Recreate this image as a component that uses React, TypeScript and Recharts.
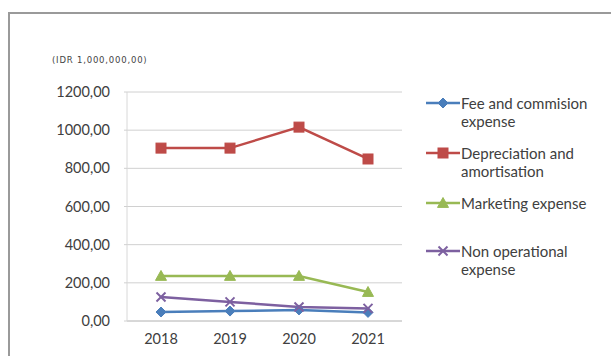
import React from 'react';
import { LineChart, Line, XAxis, YAxis, CartesianGrid } from 'recharts';

const years = ['2018', '2019', '2020', '2021'];
const feeCommission = [47, 52, 58, 45];
const depreciation = [906, 906, 1016, 849];
const marketing = [236, 236, 236, 152];
const nonOperational = [126, 100, 73, 66];
const yTicks = [0, 200, 400, 600, 800, 1000, 1200];
const unitLabel = '(IDR 1,000,000,00)';

const seriesNames = ['Fee and commision expense', 'Depreciation and amortisation', 'Marketing expense', 'Non operational expense'];
const seriesKeys = ['fee', 'dep', 'mkt', 'nonop'];
const seriesValues = [feeCommission, depreciation, marketing, nonOperational];
const seriesColors = ['#4a7ebb', '#be4b48', '#98b954', '#7d60a0'];
const seriesMarkers = ['diamond', 'square', 'triangle', 'x'];

const data = years.map((y, i) => {
  const row: any = { year: y };
  seriesKeys.forEach((k, j) => { row[k] = seriesValues[j][i]; });
  return row;
});

const FONT = 'Lato, "Open Sans", sans-serif';
const LEGEND_TOPS = [94, 144, 194, 242];

const fmt = (v: number) => v.toFixed(2).replace('.', ',');

function Marker({ type, cx, cy, color }: { type: string; cx: number; cy: number; color: string }) {
  if (type === 'diamond') {
    const s = 5;
    return <polygon points={`${cx},${cy - s} ${cx + s},${cy} ${cx},${cy + s} ${cx - s},${cy}`} fill={color} stroke={color} strokeWidth={1} />;
  }
  if (type === 'square') {
    const s = 5;
    return <rect x={cx - s} y={cy - s} width={2 * s} height={2 * s} fill={color} stroke={color} strokeWidth={1} />;
  }
  if (type === 'triangle') {
    const s = 5.5;
    return <polygon points={`${cx},${cy - s} ${cx + s},${cy + s * 0.8} ${cx - s},${cy + s * 0.8}`} fill={color} stroke={color} strokeWidth={1} />;
  }
  const s = 4.5;
  return (
    <g stroke={color} strokeWidth={2}>
      <line x1={cx - s} y1={cy - s} x2={cx + s} y2={cy + s} />
      <line x1={cx - s} y1={cy + s} x2={cx + s} y2={cy - s} />
    </g>
  );
}

export default function App() {
  return (
    <div style={{ position: 'absolute', left: 0, top: 0, width: 611, height: 356, background: '#fff', overflow: 'hidden' }}>
      <div style={{ position: 'absolute', left: 8, top: 12, width: 603, height: 344, borderLeft: '2px solid #9a9a9a', borderTop: '2px solid #9a9a9a', boxSizing: 'border-box' }} />
      <div style={{ position: 'absolute', left: 52, top: 55, fontFamily: '"DejaVu Sans", sans-serif', fontSize: 8.5, letterSpacing: 0.8, color: '#444', whiteSpace: 'nowrap' }}>{unitLabel}</div>
      <div style={{ position: 'absolute', left: 0, top: 0 }}>
        <LineChart width={611} height={356} data={data} margin={{ top: 92, right: 209, bottom: 5, left: 0 }}>
          <CartesianGrid vertical={false} stroke="#d0d0d0" strokeWidth={1} />
          <XAxis dataKey="year" height={30} padding={{ left: 34, right: 34 }} tickLine={false} tickSize={6} tickMargin={7} axisLine={{ stroke: '#c8c8c8' }}
            tick={{ fontFamily: FONT, fontSize: 14.5, fill: '#404040' }} />
          <YAxis width={127} domain={[0, 1200]} ticks={yTicks} tickFormatter={fmt} interval={0}
            axisLine={{ stroke: '#d8d8d8' }} tickLine={{ stroke: '#d0d0d0' }} tickSize={3} tickMargin={14}
            tick={{ fontFamily: FONT, fontSize: 14.5, fill: '#404040' }} />
          {seriesKeys.map((k, j) => (
            <Line key={k} dataKey={k} name={seriesNames[j]} type="linear" stroke={seriesColors[j]} strokeWidth={2.5}
              isAnimationActive={false}
              dot={(p: any) => <Marker key={`${k}-${p.index}`} type={seriesMarkers[j]} cx={p.cx} cy={p.cy} color={seriesColors[j]} />}
              activeDot={false} />
          ))}
        </LineChart>
      </div>
      {seriesNames.map((n, j) => (
        <div key={n} style={{ position: 'absolute', left: 426, top: LEGEND_TOPS[j], display: 'flex', alignItems: 'flex-start', fontFamily: FONT, fontSize: 15, lineHeight: '18px', color: '#404040' }}>
          <svg width={34} height={18} style={{ flex: 'none' }}>
            <line x1={0} y1={9} x2={34} y2={9} stroke={seriesColors[j]} strokeWidth={2.5} />
            <Marker type={seriesMarkers[j]} cx={17} cy={9} color={seriesColors[j]} />
          </svg>
          <div style={{ width: 145, marginLeft: 1 }}>{n}</div>
        </div>
      ))}
    </div>
  );
}
